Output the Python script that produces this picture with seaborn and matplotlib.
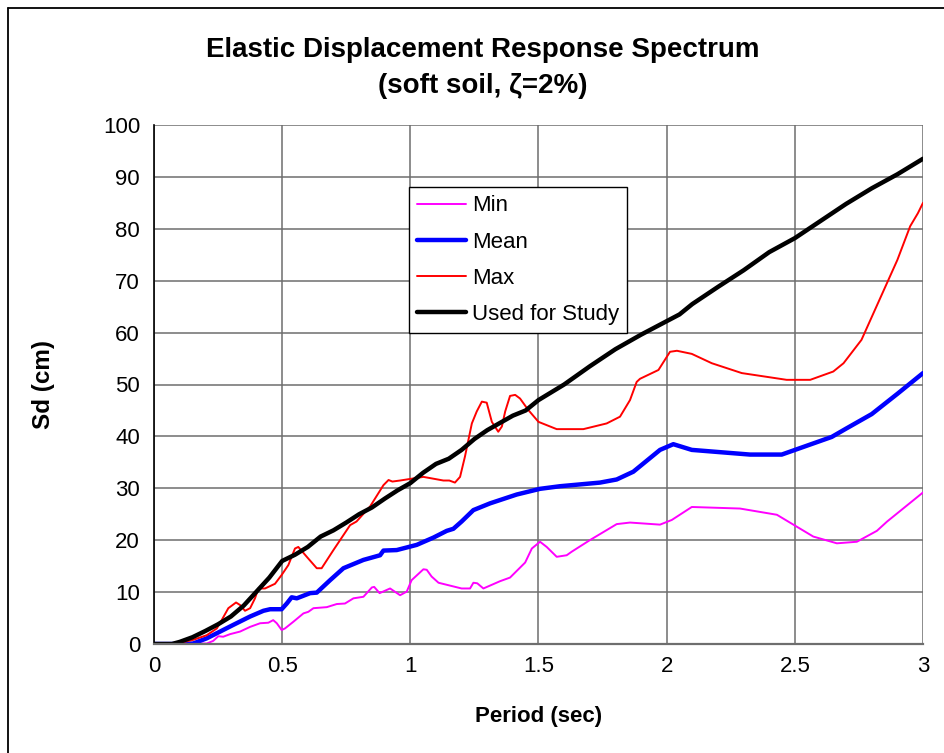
import numpy as np
import pandas as pd
import matplotlib
matplotlib.use("Agg")
import matplotlib.pyplot as plt
from matplotlib.lines import Line2D
import seaborn as sns

# Period (sec) and spectral displacement Sd (cm) for each curve
T_min = [0, 0.206, 0.231, 0.251, 0.27, 0.297, 0.336, 0.375, 0.414, 0.446, 0.465, 0.479,
         0.498, 0.511, 0.544, 0.583, 0.602, 0.622, 0.674, 0.713, 0.745, 0.778, 0.817,
         0.85, 0.859, 0.88, 0.921, 0.96, 0.986, 1.005, 1.051, 1.064, 1.083, 1.11, 1.20,
         1.233, 1.246, 1.261, 1.285, 1.35, 1.389, 1.448, 1.474, 1.506, 1.532, 1.571,
         1.61, 1.63, 1.70, 1.805, 1.857, 1.974, 2.02, 2.098, 2.286, 2.43, 2.572, 2.664,
         2.742, 2.82, 2.86, 3.0]
Sd_min = [0, 0.1, 0.6, 1.5, 1.4, 1.9, 2.4, 3.3, 4.0, 4.1, 4.6, 4.0,
          2.7, 3.0, 4.3, 5.9, 6.2, 6.9, 7.1, 7.7, 7.8, 8.8, 9.1,
          10.9, 11.0, 9.8, 10.7, 9.4, 10.1, 12.3, 14.4, 14.3, 13.0, 11.8, 10.7,
          10.7, 11.8, 11.7, 10.7, 12.1, 12.8, 15.7, 18.4, 19.7, 18.7, 16.8,
          17.1, 17.8, 20.0, 23.1, 23.4, 23.0, 23.9, 26.4, 26.1, 24.9, 20.7, 19.4,
          19.7, 21.8, 23.6, 29.2]

T_mean = [0, 0.12, 0.153, 0.206, 0.258, 0.31, 0.375, 0.427, 0.453, 0.498, 0.518, 0.537,
          0.557, 0.609, 0.635, 0.687, 0.739, 0.817, 0.882, 0.895, 0.947, 1.025, 1.09,
          1.142, 1.168, 1.20, 1.246, 1.311, 1.415, 1.506, 1.584, 1.74, 1.805, 1.87,
          1.974, 2.026, 2.098, 2.325, 2.449, 2.644, 2.70, 2.80, 2.90, 3.0]
Sd_mean = [0, 0, 0.1, 1.1, 2.4, 3.7, 5.3, 6.4, 6.7, 6.7, 7.8, 9.0,
           8.8, 9.8, 9.9, 12.3, 14.6, 16.2, 17.1, 18.0, 18.1, 19.1, 20.5,
           21.8, 22.2, 23.6, 25.8, 27.1, 28.8, 29.9, 30.4, 31.1, 31.7, 33.2,
           37.4, 38.5, 37.4, 36.5, 36.5, 39.9, 41.5, 44.3, 48.2, 52.2]

T_max = [0, 0.088, 0.153, 0.206, 0.245, 0.264, 0.29, 0.32, 0.336, 0.355, 0.375, 0.394,
         0.407, 0.433, 0.472, 0.498, 0.524, 0.55, 0.563, 0.596, 0.635, 0.654, 0.70,
         0.765, 0.79, 0.843, 0.895, 0.915, 0.93, 0.96, 1.051, 1.129, 1.152, 1.174,
         1.194, 1.213, 1.24, 1.259, 1.279, 1.298, 1.318, 1.343, 1.357, 1.37, 1.389,
         1.409, 1.428, 1.46, 1.50, 1.571, 1.675, 1.766, 1.818, 1.857, 1.883, 1.896,
         1.968, 2.013, 2.04, 2.098, 2.176, 2.293, 2.468, 2.56, 2.65, 2.69, 2.76, 2.83,
         2.90, 2.95, 2.98, 3.0]
Sd_max = [0, 0.1, 0.8, 1.7, 3.0, 4.6, 6.9, 8.0, 7.5, 6.4, 6.9, 8.8,
          10.7, 10.7, 11.6, 13.3, 15.2, 18.4, 18.7, 16.8, 14.6, 14.6, 18.1,
          22.9, 23.6, 26.5, 30.6, 31.6, 31.3, 31.5, 32.2, 31.5, 31.5, 31.1,
          32.2, 36.1, 42.5, 44.8, 46.7, 46.5, 42.8, 40.9, 41.9, 44.8, 47.8,
          48.0, 47.3, 45.1, 42.8, 41.4, 41.4, 42.5, 43.8, 47.0, 50.5, 51.1,
          52.8, 56.3, 56.5, 55.9, 54.1, 52.2, 50.9, 50.9, 52.5, 54.1, 58.6, 66.3,
          74.0, 80.5, 83.0, 85.0]

T_study = [0, 0.07, 0.10, 0.15, 0.20, 0.25, 0.30, 0.35, 0.40, 0.45, 0.50, 0.55, 0.60,
           0.65, 0.70, 0.75, 0.80, 0.85, 0.90, 0.95, 1.00, 1.05, 1.10, 1.15, 1.20, 1.25,
           1.30, 1.35, 1.40, 1.45, 1.50, 1.60, 1.70, 1.80, 1.85, 1.90, 2.00, 2.05, 2.10,
           2.20, 2.30, 2.40, 2.50, 2.60, 2.70, 2.80, 2.90, 3.00]
Sd_study = [0, 0, 0.4, 1.3, 2.5, 3.8, 5.3, 7.4, 10.1, 12.8, 16.0, 17.2, 18.7,
            20.7, 21.9, 23.4, 25.0, 26.3, 28.0, 29.6, 31.0, 33.0, 34.7, 35.7, 37.4, 39.5,
            41.2, 42.6, 44.0, 45.0, 47.0, 50.0, 53.5, 56.8, 58.2, 59.6, 62.2, 63.5, 65.5,
            68.8, 72.0, 75.5, 78.2, 81.5, 84.8, 87.8, 90.5, 93.5]

series = [
    ("Min", T_min, Sd_min, "#FF00FF", 1.4),
    ("Mean", T_mean, Sd_mean, "#0000FF", 3.2),
    ("Max", T_max, Sd_max, "#FF0000", 1.4),
    ("Used for Study", T_study, Sd_study, "#000000", 3.2),
]

x_ticks = [0, 0.5, 1, 1.5, 2, 2.5, 3]
x_tick_labels = ["0", "0.5", "1", "1.5", "2", "2.5", "3"]
y_ticks = list(range(0, 101, 10))

sns.set_style("white")
plt.rcParams["font.family"] = ["Liberation Sans", "DejaVu Sans"]
plt.rcParams["text.color"] = "black"
plt.rcParams["axes.labelcolor"] = "black"

fig = plt.figure(figsize=(9.45, 7.53), dpi=100)
ax = fig.add_axes([154 / 945, 1 - 644 / 753, 769 / 945, 519 / 753])

for name, t, sd, color, lw in series:
    df = pd.DataFrame({"Period": t, "Sd": sd})
    sns.lineplot(data=df, x="Period", y="Sd", ax=ax, color=color, linewidth=lw,
                 label=name, sort=False, estimator=None)

ax.set_xlim(0, 3)
ax.set_ylim(0, 100)
ax.set_xticks(x_ticks)
ax.set_xticklabels(x_tick_labels)
ax.set_yticks(y_ticks)
ax.grid(True, color="#6e6e6e", linewidth=1.1)
ax.set_axisbelow(True)
ax.tick_params(axis="both", length=0, labelsize=16, colors="black")
ax.tick_params(axis="y", pad=10)
ax.tick_params(axis="x", pad=9)
for side in ["top", "right"]:
    ax.spines[side].set_visible(False)
ax.spines["left"].set_color("black")
ax.spines["left"].set_linewidth(1.2)
ax.spines["bottom"].set_color("#6e6e6e")
ax.spines["bottom"].set_linewidth(1.6)

ax.set_xlabel("Period (sec)", fontsize=16, fontweight="bold")
ax.set_ylabel("Sd (cm)", fontsize=17.5, fontweight="bold")
ax.yaxis.set_label_coords((55 - 154) / 769, 0.5)
ax.xaxis.set_label_coords(0.5, (644 - 706) / 519)

leg = ax.legend(loc="upper left", bbox_to_anchor=((409 - 154) / 769, (644 - 187) / 519),
                borderaxespad=0, frameon=True, fancybox=False, framealpha=1,
                edgecolor="black", fontsize=16, handlelength=2.2, handletextpad=0.25,
                labelspacing=0.68, borderpad=0.38)
leg.get_frame().set_linewidth(1.0)

fig.text(483 / 945, 1 - 50 / 753, "Elastic Displacement Response Spectrum",
         ha="center", va="center", fontsize=20, fontweight="bold")
fig.text(483 / 945, 1 - 86 / 753, "(soft soil, \u03b6=2%)",
         ha="center", va="center", fontsize=20, fontweight="bold")

# outer chart border (left and top edges)
fig.add_artist(Line2D([8.5 / 945, 8.5 / 945], [0, 1 - 8 / 753], color="black",
                      linewidth=1.3, transform=fig.transFigure))
fig.add_artist(Line2D([8.5 / 945, 1], [1 - 8 / 753, 1 - 8 / 753], color="black",
                      linewidth=1.3, transform=fig.transFigure))

fig.savefig("out.png", dpi=100)
